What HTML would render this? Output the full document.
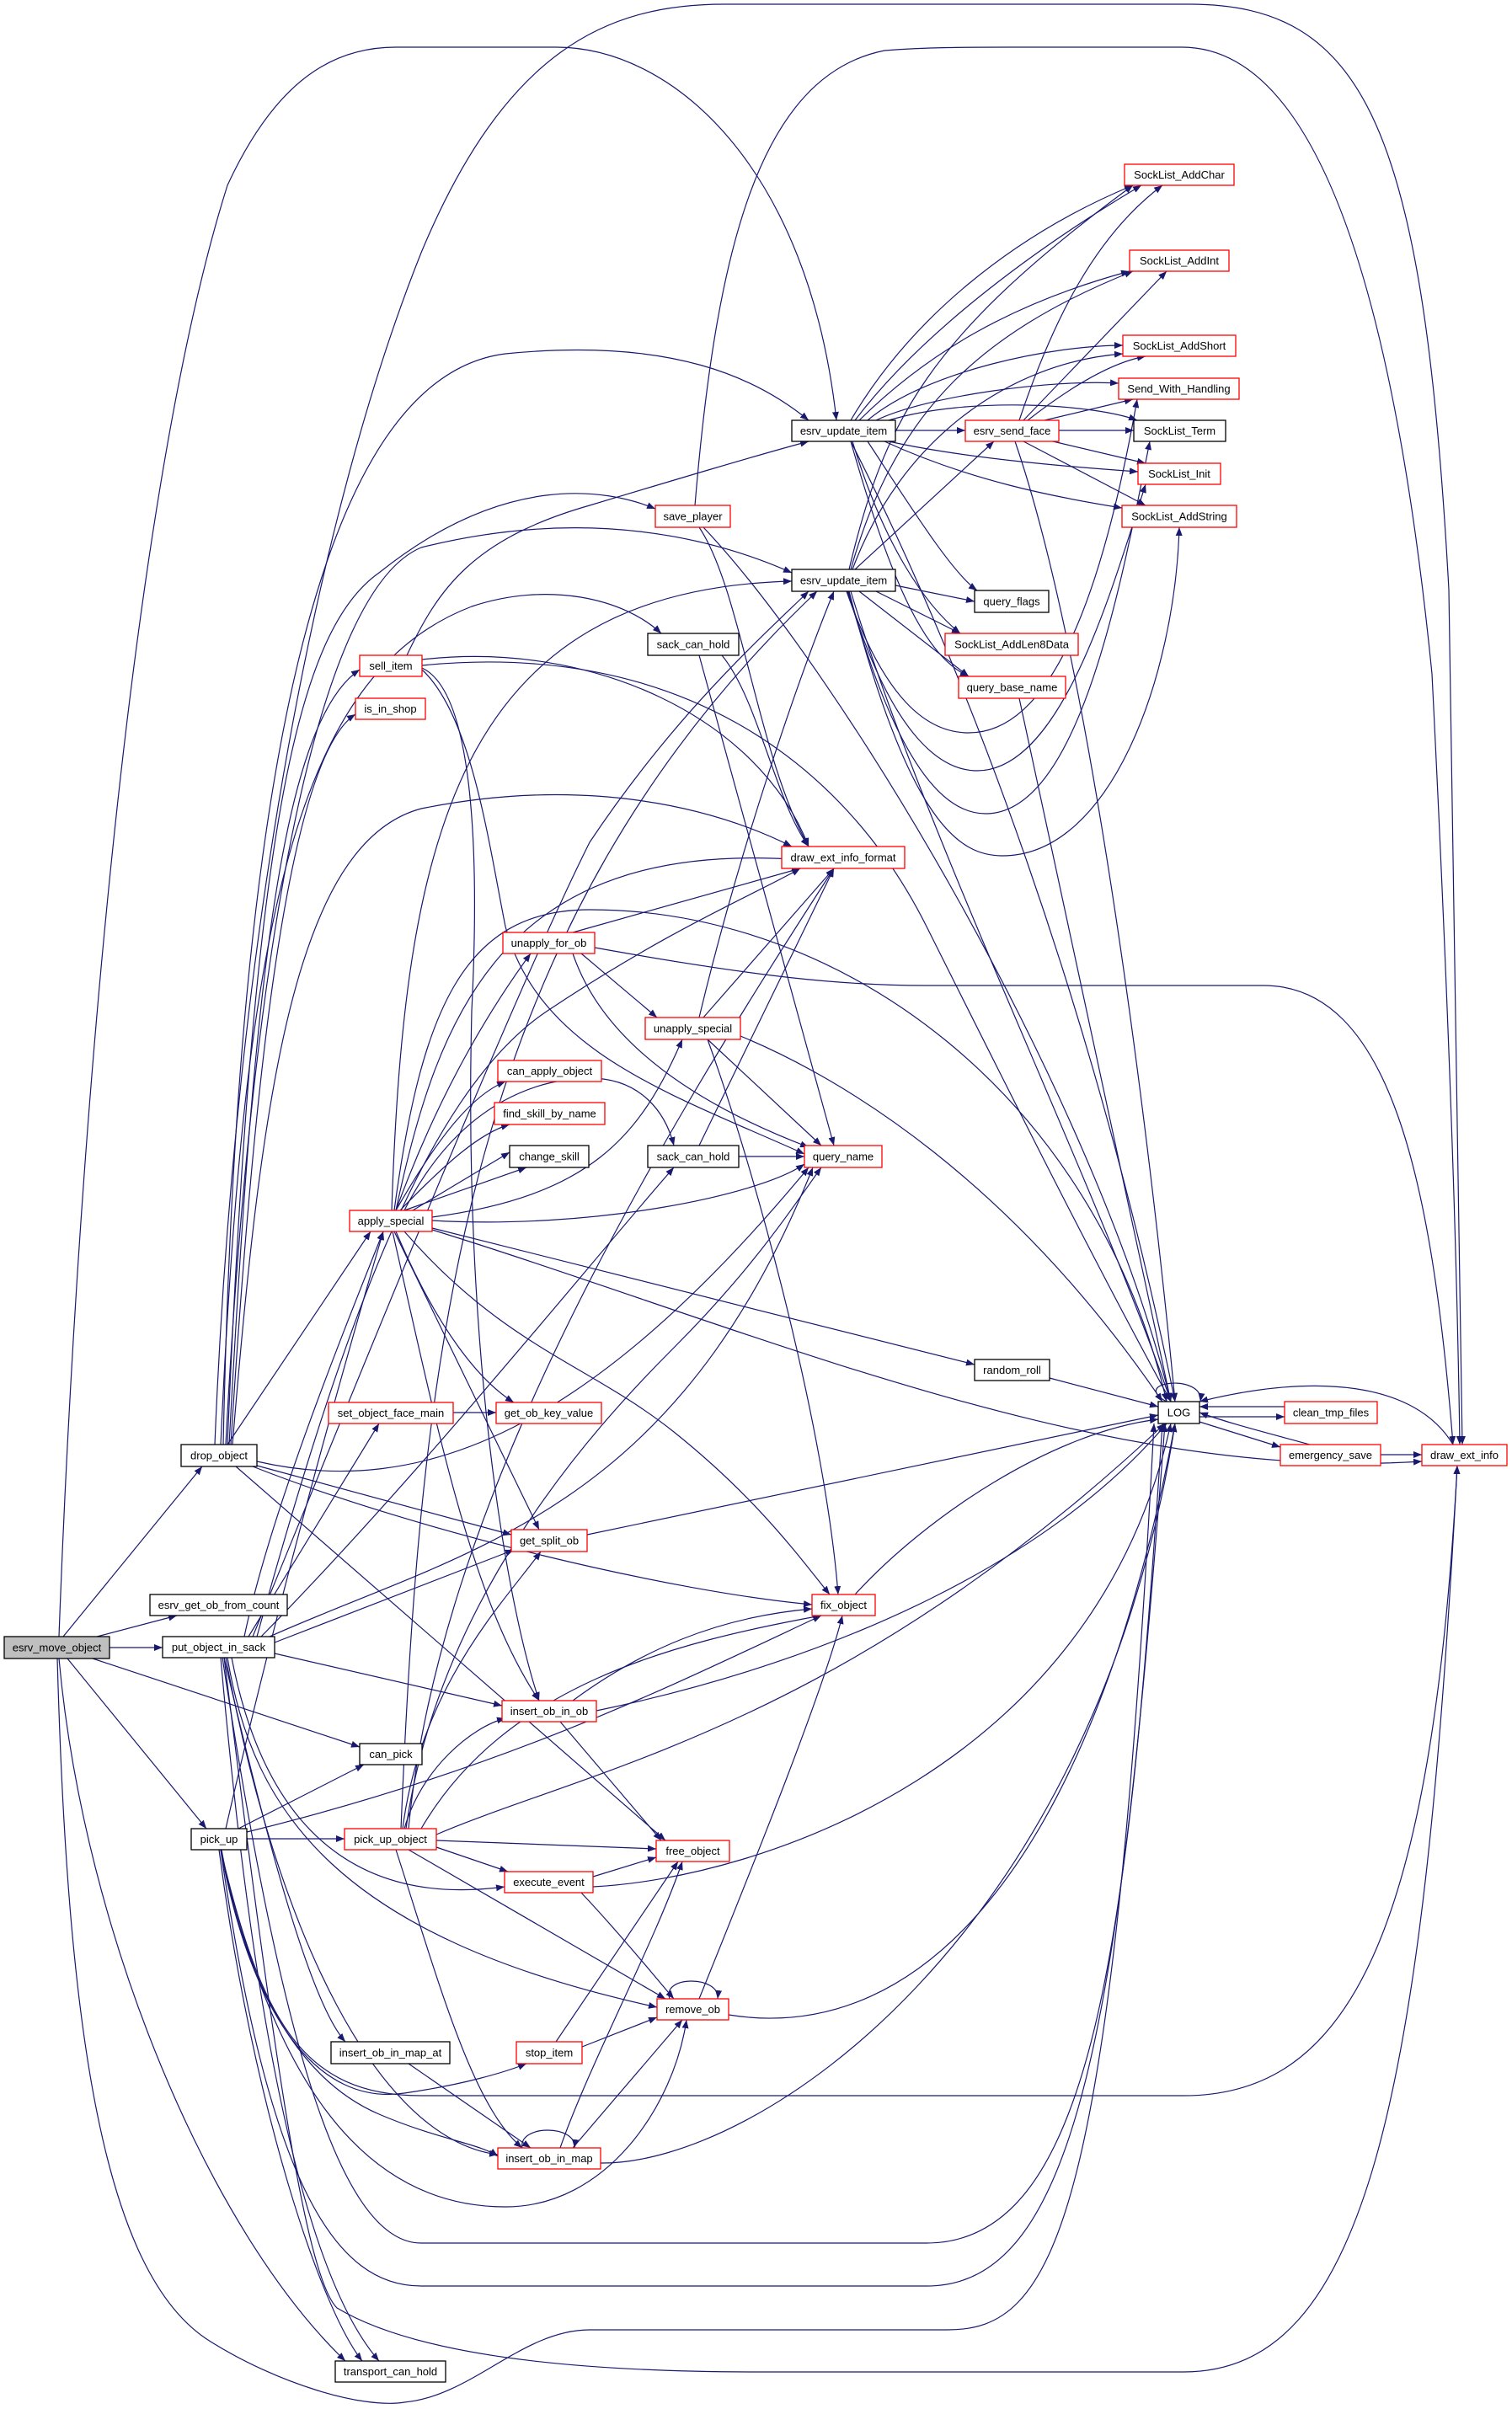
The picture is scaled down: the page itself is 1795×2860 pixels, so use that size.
<!DOCTYPE html>
<html><head><meta charset="utf-8"><style>
html,body{margin:0;padding:0;background:#fff;}
svg{display:block;}
text{font-family:"Liberation Sans",sans-serif;font-size:13px;fill:#000;}
.e{fill:none;stroke:#191970;stroke-width:1.2;marker-end:url(#a);}
.n{fill:#fff;stroke:#000;stroke-width:1.3;}
.r{fill:#fff;stroke:#ff0000;stroke-width:1.3;}
</style></head><body>
<svg width="1795" height="2860" viewBox="0 0 1795 2860" xmlns="http://www.w3.org/2000/svg">
<defs><marker id="a" markerWidth="10" markerHeight="8" refX="10" refY="4" orient="auto" markerUnits="userSpaceOnUse"><path d="M0,0 L10,4 L0,8 z" fill="#191970"/></marker></defs>
<g>
<!-- esrv_move_object -->
<path class="e" d="M75 1943 L240 1741"/>
<path class="e" d="M115 1943 L210 1918"/>
<path class="e" d="M130 1956 L193 1956"/>
<path class="e" d="M110 1969 L427 2074"/>
<path class="e" d="M80 1969 L245 2171"/>
<path class="e" d="M70 1969 C100 2300 250 2650 410 2803"/>
<path class="e" d="M70 1943 C90 1400 150 600 270 220 C330 90 400 56 470 56 L660 56 C800 56 960 200 993 499"/>
<path class="e" d="M68 1969 C80 2400 120 2700 250 2780 C330 2830 430 2860 480 2852 C560 2845 620 2766 700 2766 L1125 2766 C1250 2766 1320 2650 1370 1690"/>
<!-- drop_object -->
<path class="e" d="M255 1715 C280 1100 380 600 500 300 C600 60 720 5 860 5 L1412 5 C1620 5 1690 150 1720 700 C1730 1200 1735 1500 1736 1715"/>
<path class="e" d="M265 1715 C280 1000 360 450 600 420 C800 400 900 450 960 499"/>
<path class="e" d="M268 1715 C300 1100 380 700 500 650 C700 600 850 640 940 680"/>
<path class="e" d="M270 1715 C300 1000 350 750 450 680 C600 560 720 580 778 604"/>
<path class="e" d="M272 1715 C300 1200 330 860 427 795"/>
<path class="e" d="M274 1715 C300 1300 340 900 422 848"/>
<path class="e" d="M276 1715 C310 1300 350 1000 500 960 C700 920 850 960 940 1005"/>
<path class="e" d="M270 1715 L440 1462"/>
<path class="e" d="M262 1715 C290 1100 350 800 560 720 C650 690 740 710 785 752"/>
<path class="e" d="M305 1735 C500 1780 700 1700 960 1386"/>
<path class="e" d="M305 1740 L607 1822"/>
<path class="e" d="M300 1741 C500 1820 800 1890 964 1905"/>
<path class="e" d="M280 1741 L790 2185"/>
<!-- put_object_in_sack -->
<path class="e" d="M300 1943 C400 1700 600 1200 700 1000 C800 850 900 760 960 702"/>
<path class="e" d="M305 1943 C400 1600 500 1300 650 1200 C800 1100 900 1060 950 1031"/>
<path class="e" d="M310 1943 C500 1750 700 1500 800 1386"/>
<path class="e" d="M295 1943 L450 1690"/>
<path class="e" d="M290 1943 C320 1800 400 1600 455 1462"/>
<path class="e" d="M326 1950 L610 1840"/>
<path class="e" d="M320 1943 C550 1840 800 1800 965 1386"/>
<path class="e" d="M326 1963 L596 2025"/>
<path class="e" d="M270 1968 C300 2150 400 2300 780 2383"/>
<path class="e" d="M266 1968 C320 2200 370 2380 410 2424"/>
<path class="e" d="M268 1968 C330 2300 450 2540 591 2558"/>
<path class="e" d="M275 1968 C320 2200 450 2260 599 2240"/>
<path class="e" d="M262 1968 C300 2400 360 2700 450 2803"/>
<path class="e" d="M264 1968 C330 2400 400 2663 500 2663 L1100 2663 C1300 2663 1340 2300 1380 1690"/>
<path class="e" d="M266 1968 C320 2400 360 2700 400 2740 C500 2800 700 2816 900 2816 L1405 2816 C1620 2816 1690 2500 1730 1740"/>
<!-- pick_up -->
<path class="e" d="M293 2183 L409 2183"/>
<path class="e" d="M283 2171 L432 2095"/>
<path class="e" d="M268 2171 C330 1900 400 1650 455 1462"/>
<path class="e" d="M293 2175 C600 2100 800 2000 975 1918"/>
<path class="e" d="M262 2196 C300 2400 380 2500 480 2485 C550 2475 600 2460 625 2450"/>
<path class="e" d="M263 2196 C300 2400 380 2480 450 2510 C520 2540 570 2545 591 2560"/>
<path class="e" d="M262 2196 C320 2450 420 2620 600 2620 C720 2620 800 2500 815 2398"/>
<path class="e" d="M262 2196 C310 2400 360 2488 500 2488 L1405 2488 C1600 2488 1700 2300 1730 1740"/>
<path class="e" d="M262 2196 C320 2600 400 2714 500 2714 L1100 2714 C1280 2714 1330 2400 1383 1690"/>
<path class="e" d="M260 2196 C300 2500 380 2740 430 2803"/>
<!-- pick_up_object -->
<path class="e" d="M518 2185 L779 2195"/>
<path class="e" d="M518 2193 L603 2222"/>
<path class="e" d="M485 2196 L790 2373"/>
<path class="e" d="M470 2196 C520 2350 560 2500 620 2550"/>
<path class="e" d="M480 2171 C500 2100 560 2050 600 2040"/>
<path class="e" d="M478 2171 C500 2000 600 1900 642 1842"/>
<path class="e" d="M482 2171 C520 1900 700 1700 800 1600 C900 1500 950 1420 975 1386"/>
<path class="e" d="M500 2171 C600 2000 800 1950 975 1918"/>
<path class="e" d="M485 2171 C520 1800 750 1400 990 1031"/>
<path class="e" d="M518 2178 C700 2100 1000 2050 1383 1690"/>
<path class="e" d="M476 2171 C500 1600 550 1100 970 702"/>
<!-- sell_item -->
<path class="e" d="M483 778 C520 700 560 640 700 600 C800 570 900 540 960 524"/>
<path class="e" d="M501 783 C700 760 900 850 960 1005"/>
<path class="e" d="M501 793 C560 820 570 1000 560 1200 C550 1600 600 1900 640 2019"/>
<path class="e" d="M501 795 C560 850 580 1000 600 1100 C640 1250 800 1300 955 1370"/>
<path class="e" d="M501 790 C800 760 1000 900 1100 1100 C1200 1300 1300 1500 1390 1664"/>
<!-- save_player -->
<path class="e" d="M825 600 C850 300 900 90 1050 60 C1100 56 1150 56 1200 56 L1403 56 C1550 56 1650 300 1700 800 C1720 1200 1730 1500 1733 1715"/>
<path class="e" d="M830 626 C880 700 900 900 960 1005"/>
<path class="e" d="M835 626 C1000 800 1300 1300 1390 1664"/>
<!-- sack_can_hold -->
<path class="e" d="M830 778 L990 1360"/>
<path class="e" d="M857 778 C900 830 920 950 960 1005"/>
<path class="e" d="M877 1373 L955 1373"/>
<path class="e" d="M830 1360 L990 1031"/>
<!-- apply_special -->
<path class="e" d="M470 1437 C520 1300 580 1200 630 1132"/>
<path class="e" d="M513 1445 C700 1420 760 1350 810 1234"/>
<path class="e" d="M470 1437 C520 1350 560 1300 600 1284"/>
<path class="e" d="M475 1437 C530 1380 570 1345 605 1335"/>
<path class="e" d="M480 1437 L625 1386"/>
<path class="e" d="M490 1437 L605 1368"/>
<path class="e" d="M513 1449 C700 1460 900 1420 955 1382"/>
<path class="e" d="M513 1458 L1157 1620"/>
<path class="e" d="M470 1462 C520 1580 570 1640 610 1665"/>
<path class="e" d="M468 1462 L640 1816"/>
<path class="e" d="M480 1462 C600 1600 700 1620 800 1700 C900 1780 950 1850 985 1893"/>
<path class="e" d="M466 1462 C520 1700 560 1900 640 2019"/>
<path class="e" d="M470 1437 C520 1200 600 1000 940 1020"/>
<path class="e" d="M465 1437 C480 1000 540 700 940 690"/>
<path class="e" d="M513 1460 C900 1580 1300 1760 1688 1735"/>
<path class="e" d="M480 1437 C550 1300 650 1280 700 1280 C760 1280 790 1320 800 1360"/>
<path class="e" d="M468 1437 C500 1200 550 1080 700 1080 C1000 1080 1300 1300 1385 1664"/>
<!-- unapply -->
<path class="e" d="M690 1132 L780 1208"/>
<path class="e" d="M680 1107 L950 1031"/>
<path class="e" d="M680 1132 C720 1250 850 1320 960 1362"/>
<path class="e" d="M706 1125 C900 1160 1000 1170 1100 1170 L1500 1170 C1650 1170 1700 1400 1725 1715"/>
<path class="e" d="M830 1208 C880 1000 950 800 990 702"/>
<path class="e" d="M835 1208 L990 1031"/>
<path class="e" d="M840 1234 L975 1360"/>
<path class="e" d="M840 1234 C900 1400 980 1700 995 1893"/>
<path class="e" d="M879 1230 C1000 1280 1200 1400 1380 1664"/>
<!-- misc -->
<path class="e" d="M538 1677 L589 1677"/>
<path class="e" d="M697 1822 L1375 1680"/>
<path class="e" d="M1015 1893 C1100 1800 1250 1700 1375 1685"/>
<path class="e" d="M680 2019 C760 1960 850 1920 964 1910"/>
<path class="e" d="M665 2044 L785 2185"/>
<path class="e" d="M708 2031 C1000 1970 1250 1850 1385 1690"/>
<path class="e" d="M704 2228 L779 2205"/>
<path class="e" d="M690 2247 C740 2300 780 2350 800 2373"/>
<path class="e" d="M704 2240 C900 2230 1300 2100 1390 1690"/>
<path class="e" d="M795 2373 C785 2345 855 2345 852 2373"/>
<path class="e" d="M830 2373 C900 2200 980 2000 1000 1918"/>
<path class="e" d="M865 2392 C1100 2430 1300 2200 1395 1690"/>
<path class="e" d="M691 2430 L780 2395"/>
<path class="e" d="M660 2424 L805 2210"/>
<path class="e" d="M485 2450 L630 2550"/>
<path class="e" d="M620 2550 C615 2522 685 2522 682 2550"/>
<path class="e" d="M680 2550 L810 2398"/>
<path class="e" d="M665 2550 C700 2450 780 2300 810 2210"/>
<path class="e" d="M713 2568 C900 2570 1300 2300 1395 1690"/>
<!-- esrv_update_item 1 -->
<path class="e" d="M1010 499 C1080 380 1200 280 1345 220"/>
<path class="e" d="M1015 499 C1090 400 1220 300 1355 220"/>
<path class="e" d="M1020 499 C1100 420 1200 360 1341 322"/>
<path class="e" d="M1030 499 C1100 440 1250 410 1333 410"/>
<path class="e" d="M1040 499 C1100 470 1250 450 1328 455"/>
<path class="e" d="M1055 499 C1150 470 1300 480 1350 499"/>
<path class="e" d="M1063 511 L1146 511"/>
<path class="e" d="M1055 524 C1150 545 1280 555 1351 560"/>
<path class="e" d="M1050 524 C1150 570 1250 590 1332 603"/>
<path class="e" d="M1030 524 C1080 600 1130 680 1160 701"/>
<path class="e" d="M1012 524 C1050 650 1100 720 1140 752"/>
<path class="e" d="M1010 524 C1060 700 1100 780 1150 803"/>
<path class="e" d="M1010 524 C1150 800 1300 1200 1395 1664"/>
<!-- esrv_update_item 2 -->
<path class="e" d="M1015 676 L1180 524"/>
<path class="e" d="M1008 676 C1050 500 1100 400 1345 220"/>
<path class="e" d="M1010 676 C1060 500 1150 400 1345 322"/>
<path class="e" d="M1012 676 C1070 520 1200 430 1333 420"/>
<path class="e" d="M1063 695 L1157 714"/>
<path class="e" d="M1040 702 L1140 752"/>
<path class="e" d="M1020 702 L1150 803"/>
<path class="e" d="M1010 702 C1100 1000 1300 1400 1390 1664"/>
<path class="e" d="M1005 702 C1050 830 1100 870 1150 870 C1250 870 1310 700 1350 474"/>
<path class="e" d="M1006 702 C1060 880 1120 915 1160 915 C1260 915 1320 700 1360 575"/>
<path class="e" d="M1007 702 C1070 930 1130 966 1170 966 C1280 966 1330 700 1365 524"/>
<path class="e" d="M1008 702 C1080 980 1140 1016 1190 1016 C1320 1016 1395 800 1400 626"/>
<!-- esrv_send_face -->
<path class="e" d="M1210 499 C1250 380 1300 280 1380 220"/>
<path class="e" d="M1215 499 L1385 322"/>
<path class="e" d="M1220 499 C1270 460 1320 430 1360 423"/>
<path class="e" d="M1240 499 L1345 474"/>
<path class="e" d="M1257 511 L1346 511"/>
<path class="e" d="M1250 524 L1360 550"/>
<path class="e" d="M1215 524 L1360 600"/>
<path class="e" d="M1205 524 C1300 800 1370 1400 1395 1664"/>
<!-- LOG area -->
<path class="e" d="M1210 829 L1390 1664"/>
<path class="e" d="M1246 1636 L1375 1670"/>
<path class="e" d="M1385 1664 C1340 1640 1430 1630 1425 1664"/>
<path class="e" d="M1424 1682 L1525 1682"/>
<path class="e" d="M1525 1670 L1424 1670"/>
<path class="e" d="M1424 1688 L1520 1718"/>
<path class="e" d="M1555 1715 C1500 1700 1460 1690 1424 1677"/>
<path class="e" d="M1639 1727 L1688 1727"/>
<path class="e" d="M1725 1715 C1680 1640 1560 1630 1424 1664"/>
</g>
<g>
<rect x="5" y="1943" width="125" height="26" fill="#bfbfbf" stroke="#000" stroke-width="1.3"/><text x="67.5" y="1960.5" text-anchor="middle">esrv_move_object</text>
<rect class="n" x="215" y="1715" width="90" height="26"/><text x="260" y="1732.5" text-anchor="middle">drop_object</text>
<rect class="n" x="178" y="1893" width="163" height="25"/><text x="259.5" y="1910" text-anchor="middle">esrv_get_ob_from_count</text>
<rect class="n" x="193" y="1943" width="133" height="25"/><text x="259.5" y="1960" text-anchor="middle">put_object_in_sack</text>
<rect class="n" x="427" y="2070" width="74" height="25"/><text x="464" y="2087" text-anchor="middle">can_pick</text>
<rect class="n" x="227" y="2171" width="66" height="25"/><text x="260" y="2188" text-anchor="middle">pick_up</text>
<rect class="r" x="409" y="2171" width="109" height="25"/><text x="463.5" y="2188" text-anchor="middle">pick_up_object</text>
<rect class="n" x="398" y="2803" width="131" height="25"/><text x="463.5" y="2820" text-anchor="middle">transport_can_hold</text>
<rect class="n" x="393" y="2424" width="141" height="26"/><text x="463.5" y="2441.5" text-anchor="middle">insert_ob_in_map_at</text>
<rect class="r" x="778" y="600" width="89" height="26"/><text x="822.5" y="617.5" text-anchor="middle">save_player</text>
<rect class="r" x="427" y="778" width="74" height="25"/><text x="464" y="795" text-anchor="middle">sell_item</text>
<rect class="r" x="422" y="829" width="83" height="25"/><text x="463.5" y="846" text-anchor="middle">is_in_shop</text>
<rect class="n" x="769" y="752" width="108" height="26"/><text x="823" y="769.5" text-anchor="middle">sack_can_hold</text>
<rect class="n" x="769" y="1360" width="108" height="26"/><text x="823" y="1377.5" text-anchor="middle">sack_can_hold</text>
<rect class="r" x="597" y="1107" width="109" height="25"/><text x="651.5" y="1124" text-anchor="middle">unapply_for_ob</text>
<rect class="r" x="766" y="1208" width="113" height="26"/><text x="822.5" y="1225.5" text-anchor="middle">unapply_special</text>
<rect class="r" x="591" y="1259" width="123" height="25"/><text x="652.5" y="1276" text-anchor="middle">can_apply_object</text>
<rect class="r" x="587" y="1309" width="131" height="26"/><text x="652.5" y="1326.5" text-anchor="middle">find_skill_by_name</text>
<rect class="n" x="605" y="1360" width="94" height="26"/><text x="652" y="1377.5" text-anchor="middle">change_skill</text>
<rect class="r" x="415" y="1437" width="98" height="25"/><text x="464" y="1454" text-anchor="middle">apply_special</text>
<rect class="r" x="390" y="1665" width="148" height="25"/><text x="464" y="1682" text-anchor="middle">set_object_face_main</text>
<rect class="r" x="589" y="1665" width="125" height="25"/><text x="651.5" y="1682" text-anchor="middle">get_ob_key_value</text>
<rect class="r" x="607" y="1816" width="90" height="26"/><text x="652" y="1833.5" text-anchor="middle">get_split_ob</text>
<rect class="r" x="964" y="1893" width="75" height="25"/><text x="1001.5" y="1910" text-anchor="middle">fix_object</text>
<rect class="r" x="596" y="2019" width="112" height="25"/><text x="652" y="2036" text-anchor="middle">insert_ob_in_ob</text>
<rect class="r" x="779" y="2185" width="87" height="25"/><text x="822.5" y="2202" text-anchor="middle">free_object</text>
<rect class="r" x="599" y="2222" width="105" height="25"/><text x="651.5" y="2239" text-anchor="middle">execute_event</text>
<rect class="r" x="780" y="2373" width="85" height="25"/><text x="822.5" y="2390" text-anchor="middle">remove_ob</text>
<rect class="r" x="613" y="2424" width="78" height="26"/><text x="652" y="2441.5" text-anchor="middle">stop_item</text>
<rect class="r" x="591" y="2550" width="122" height="25"/><text x="652" y="2567" text-anchor="middle">insert_ob_in_map</text>
<rect class="n" x="940" y="499" width="123" height="25"/><text x="1001.5" y="516" text-anchor="middle">esrv_update_item</text>
<rect class="n" x="940" y="676" width="123" height="26"/><text x="1001.5" y="693.5" text-anchor="middle">esrv_update_item</text>
<rect class="r" x="1146" y="499" width="111" height="25"/><text x="1201.5" y="516" text-anchor="middle">esrv_send_face</text>
<rect class="n" x="1157" y="701" width="88" height="26"/><text x="1201" y="718.5" text-anchor="middle">query_flags</text>
<rect class="r" x="1122" y="752" width="158" height="26"/><text x="1201" y="769.5" text-anchor="middle">SockList_AddLen8Data</text>
<rect class="r" x="1138" y="803" width="127" height="26"/><text x="1201.5" y="820.5" text-anchor="middle">query_base_name</text>
<rect class="r" x="928" y="1005" width="146" height="26"/><text x="1001" y="1022.5" text-anchor="middle">draw_ext_info_format</text>
<rect class="r" x="955" y="1360" width="92" height="26"/><text x="1001" y="1377.5" text-anchor="middle">query_name</text>
<rect class="r" x="1335" y="195" width="130" height="25"/><text x="1400" y="212" text-anchor="middle">SockList_AddChar</text>
<rect class="r" x="1341" y="297" width="118" height="25"/><text x="1400" y="314" text-anchor="middle">SockList_AddInt</text>
<rect class="r" x="1333" y="398" width="134" height="25"/><text x="1400" y="415" text-anchor="middle">SockList_AddShort</text>
<rect class="r" x="1328" y="449" width="143" height="25"/><text x="1399.5" y="466" text-anchor="middle">Send_With_Handling</text>
<rect class="n" x="1346" y="499" width="109" height="25"/><text x="1400.5" y="516" text-anchor="middle">SockList_Term</text>
<rect class="r" x="1351" y="550" width="98" height="25"/><text x="1400" y="567" text-anchor="middle">SockList_Init</text>
<rect class="r" x="1332" y="600" width="136" height="26"/><text x="1400" y="617.5" text-anchor="middle">SockList_AddString</text>
<rect class="n" x="1157" y="1614" width="89" height="25"/><text x="1201.5" y="1631" text-anchor="middle">random_roll</text>
<rect class="n" x="1375" y="1664" width="49" height="26"/><text x="1399.5" y="1681.5" text-anchor="middle">LOG</text>
<rect class="r" x="1525" y="1664" width="110" height="26"/><text x="1580" y="1681.5" text-anchor="middle">clean_tmp_files</text>
<rect class="r" x="1520" y="1715" width="119" height="25"/><text x="1579.5" y="1732" text-anchor="middle">emergency_save</text>
<rect class="r" x="1688" y="1715" width="101" height="25"/><text x="1738.5" y="1732" text-anchor="middle">draw_ext_info</text>
</g>
</svg>
</body></html>
